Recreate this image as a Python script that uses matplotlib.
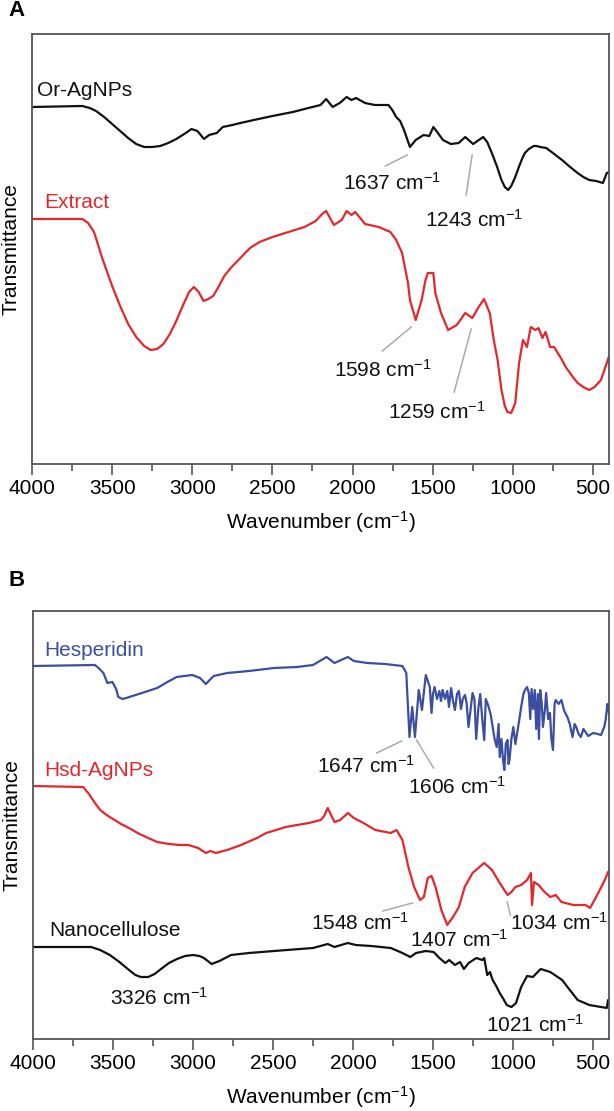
"""
FTIR spectra of Or-AgNPs / extract (A) and hesperidin / Hsd-AgNPs /
nanocellulose (B). Transmittance values are arbitrary offset units read
off the reference figure.
"""

import matplotlib
matplotlib.use("Agg")
import matplotlib.pyplot as plt
from matplotlib.ticker import MultipleLocator

plt.rcParams["font.family"] = ["Liberation Sans", "DejaVu Sans"]
plt.rcParams["mathtext.default"] = "regular"

# ----------------------------- DATA -----------------------------
# panel A
or_agnps_wn = [4000, 3686, 3640, 3600, 3550, 3500, 3450, 3400, 3350, 3300,
               3250, 3200, 3150, 3100, 3050, 3005, 2968, 2927, 2895, 2847,
               2810, 2750, 2700, 2616, 2500, 2372, 2300, 2250, 2200, 2165,
               2124, 2080, 2037, 2007, 1978, 1922, 1861, 1776, 1752, 1728,
               1703, 1679, 1642, 1606, 1557, 1521, 1496, 1472, 1436, 1387,
               1338, 1297, 1248, 1185, 1160, 1131, 1100, 1071, 1050, 1029,
               1010, 985, 960, 940, 925, 900, 870, 852, 830, 791,
               750, 693, 650, 596, 560, 523, 480, 438, 414, 397]
or_agnps_t = [357, 358, 356, 353, 347, 340, 333, 326, 320, 317,
              317, 318, 321, 325, 330, 335, 333, 325, 329, 331,
              337, 339, 341, 344, 348, 352, 355, 357, 359, 365,
              357, 361, 367, 364, 366, 361, 359, 359, 354, 347,
              343, 334, 317, 324, 329, 328, 337, 332, 324, 320,
              321, 327, 320, 327, 322, 311, 298, 284, 277, 274,
              278, 287, 298, 306, 311, 315, 318, 318, 317, 316,
              311, 304, 298, 291, 287, 284, 283, 281, 291, 292]

extract_wn = [4000, 3686, 3650, 3613, 3560, 3500, 3450, 3400, 3350, 3300,
              3260, 3220, 3180, 3140, 3100, 3060, 3020, 2990, 2960, 2930,
              2900, 2870, 2840, 2800, 2760, 2700, 2640, 2580, 2500, 2400,
              2300, 2230, 2190, 2165, 2116, 2068, 2037, 2007, 1983, 1922,
              1837, 1764, 1728, 1691, 1654, 1642, 1606, 1569, 1545, 1530,
              1496, 1484, 1448, 1404, 1350, 1297, 1253, 1217, 1180, 1144,
              1119, 1095, 1071, 1050, 1034, 1010, 985, 961, 937, 912,
              888, 859, 840, 815, 796, 767, 743, 700, 670, 630,
              596, 560, 523, 490, 450, 414, 397]
extract_t = [245, 245, 241, 232, 205, 178, 158, 140, 127, 118,
             114, 115, 120, 130, 143, 158, 172, 177, 172, 163,
             165, 168, 176, 188, 196, 206, 216, 222, 227, 232,
             237, 243, 250, 253, 239, 244, 253, 249, 252, 240,
             237, 232, 224, 211, 181, 164, 144, 164, 184, 191,
             191, 171, 151, 134, 139, 151, 146, 156, 165, 151,
             124, 104, 74, 58, 52, 51, 61, 101, 124, 117,
             137, 134, 136, 126, 132, 117, 117, 106, 97, 88,
             81, 77, 74, 77, 84, 101, 109]

# panel B
hesperidin_wn = [4000, 3613, 3590, 3560, 3535, 3504, 3480, 3467, 3440, 3418,
                 3358, 3300, 3224, 3160, 3102, 3005, 2956, 2920, 2871, 2786,
                 2650, 2494, 2350, 2250, 2165, 2116, 2032, 1995, 1910, 1800,
                 1691, 1667, 1647, 1630, 1613, 1589, 1569, 1545, 1520, 1509,
                 1500, 1490, 1475, 1460, 1450, 1440, 1425, 1411, 1400, 1387,
                 1375, 1363, 1350, 1338, 1325, 1314, 1300, 1290, 1278, 1265,
                 1253, 1241, 1230, 1217, 1205, 1192, 1180, 1170, 1156, 1140,
                 1127, 1115, 1102, 1090, 1083, 1072, 1063, 1054, 1045, 1034,
                 1028, 1022, 1010, 998, 985, 974, 960, 949, 935, 925,
                 912, 901, 892, 884, 874, 864, 855, 845, 838, 830,
                 820, 813, 800, 793, 780, 769, 760, 750, 740, 733,
                 715, 697, 680, 660, 645, 628, 615, 605, 590, 576,
                 560, 547, 530, 499, 470, 450, 430, 421, 410, 406,
                 400]
hesperidin_t = [373, 374, 371, 366, 356, 357, 350, 342, 340, 341,
                344, 347, 351, 357, 362, 364, 361, 355, 363, 366,
                368, 371, 372, 374, 382, 376, 382, 378, 376, 375,
                373, 366, 302, 332, 302, 349, 329, 364, 352, 326,
                345, 352, 340, 348, 338, 349, 340, 348, 332, 351,
                338, 329, 345, 348, 330, 340, 344, 336, 312, 330,
                346, 340, 300, 330, 345, 320, 299, 340, 334, 325,
                312, 300, 292, 315, 282, 300, 280, 269, 295, 299,
                275, 279, 300, 312, 295, 306, 320, 332, 345, 349,
                352, 346, 320, 350, 330, 349, 310, 345, 300, 349,
                335, 312, 330, 346, 320, 326, 300, 289, 335, 339,
                335, 339, 328, 322, 315, 302, 315, 312, 305, 302,
                310, 307, 303, 306, 305, 304, 312, 319, 335, 332,
                326]

hsd_agnps_wn = [4000, 3686, 3650, 3613, 3580, 3540, 3500, 3450, 3400, 3346,
                3280, 3224, 3150, 3080, 3029, 2968, 2920, 2890, 2859, 2786,
                2700, 2600, 2543, 2480, 2421, 2350, 2275, 2202, 2180, 2158,
                2116, 2080, 2032, 1995, 1934, 1861, 1764, 1728, 1691, 1654,
                1618, 1581, 1557, 1533, 1509, 1484, 1448, 1411, 1375, 1338,
                1302, 1253, 1180, 1131, 1083, 1034, 1010, 985, 949, 912,
                888, 881, 869, 840, 803, 767, 733, 697, 623, 547,
                518, 474, 426, 406, 397]
hsd_agnps_t = [253, 252, 245, 236, 229, 224, 220, 215, 211, 206,
               201, 197, 195, 194, 194, 191, 186, 188, 186, 189,
               194, 201, 206, 209, 212, 214, 216, 219, 223, 231,
               217, 219, 226, 221, 216, 209, 206, 209, 199, 172,
               152, 139, 142, 161, 163, 152, 129, 114, 122, 132,
               152, 166, 176, 169, 156, 144, 147, 152, 154, 159,
               166, 134, 157, 154, 147, 142, 144, 137, 134, 134,
               131, 144, 159, 167, 164]

nanocellulose_wn = [4000, 3637, 3580, 3520, 3460, 3400, 3360, 3326, 3280, 3240,
                    3200, 3150, 3100, 3050, 3000, 2960, 2932, 2883, 2835, 2762,
                    2650, 2494, 2250, 2158, 2116, 2032, 1983, 1886, 1764, 1691,
                    1642, 1606, 1545, 1496, 1460, 1423, 1399, 1363, 1331, 1307,
                    1277, 1229, 1192, 1180, 1161, 1144, 1127, 1105, 1083, 1060,
                    1039, 1010, 981, 949, 912, 876, 827, 767, 693, 645,
                    596, 523, 450, 414, 406, 397]
nanocellulose_t = [92, 92, 89, 84, 77, 69, 64, 62, 62, 65,
                   70, 76, 80, 83, 84, 83, 81, 75, 78, 84,
                   86, 88, 91, 95, 92, 96, 94, 93, 91, 86,
                   82, 86, 88, 87, 81, 76, 79, 74, 77, 70,
                   76, 81, 79, 81, 64, 67, 59, 53, 46, 40,
                   34, 32, 36, 52, 63, 62, 70, 67, 59, 49,
                   39, 34, 32, 31, 39, 34]
# ----------------------------------------------------------------

BLACK = "#111111"
RED = "#e5262c"
BLUE = "#3b4ea2"
LEADER = "#aaaaaa"
FS = 15

W, H = 614, 1111
fig = plt.figure(figsize=(W / 100, H / 100), dpi=100)
axA = fig.add_axes([32 / W, 1 - 464 / H, 577 / W, 430 / H])
axB = fig.add_axes([33 / W, 1 - 1039 / H, 576 / W, 428 / H])


def style(ax, ytop):
    ax.set_xlim(4000, 400)
    ax.set_ylim(0, ytop)
    ax.xaxis.set_major_locator(MultipleLocator(500))
    ax.xaxis.set_minor_locator(MultipleLocator(250))
    ax.set_yticks([])
    ax.tick_params(axis="x", which="major", length=8, width=1.2, pad=3,
                   labelsize=FS, color="#555555")
    ax.tick_params(axis="x", which="minor", length=5, width=1.2, color="#555555")
    for sp in ax.spines.values():
        sp.set_color("#555555")
        sp.set_linewidth(1.3)
    ax.set_xlabel("Wavenumber (cm$^{-1}$)", fontsize=FS, labelpad=8)
    ax.set_ylabel("Transmittance", fontsize=FS, labelpad=8)


def peak(ax, text, tx, ty, line=None):
    ax.text(tx, ty, text, fontsize=FS, ha="center", va="center", color=BLACK)
    if line is not None:
        (x1, y1), (x2, y2) = line
        ax.plot([x1, x2], [y1, y2], color=LEADER, lw=1.1)


CM = " cm$^{-1}$"

# ---- panel A ----
axA.plot(or_agnps_wn, or_agnps_t, color=BLACK, lw=1.6)
axA.plot(extract_wn, extract_t, color=RED, lw=1.6)
style(axA, 430)
axA.text(3969, 374, "Or-AgNPs", fontsize=FS, color=BLACK, va="center")
axA.text(3925, 262, "Extract", fontsize=FS, color=RED, va="center")
peak(axA, "1637" + CM, 1752, 281, ((1796, 298), (1659, 309)))
peak(axA, "1243" + CM, 1242, 244, ((1291, 269), (1254, 309)))
peak(axA, "1598" + CM, 1808, 94, ((1814, 113), (1634, 137)))
peak(axA, "1259" + CM, 1472, 52, ((1366, 72), (1260, 135)))

# ---- panel B ----
axB.plot(hesperidin_wn, hesperidin_t, color=BLUE, lw=1.6)
axB.plot(hsd_agnps_wn, hsd_agnps_t, color=RED, lw=1.6)
axB.plot(nanocellulose_wn, nanocellulose_t, color=BLACK, lw=1.6)
style(axB, 428)
axB.text(3932, 389, "Hesperidin", fontsize=FS, color=BLUE, va="center")
axB.text(3932, 269, "Hsd-AgNPs", fontsize=FS, color=RED, va="center")
axB.text(3900, 109, "Nanocellulose", fontsize=FS, color=BLACK, va="center")
peak(axB, "1647" + CM, 1920, 273, ((1852, 286), (1696, 298)))
peak(axB, "1606" + CM, 1347, 252, ((1497, 271), (1603, 299)))
peak(axB, "1548" + CM, 1958, 116, ((1814, 128), (1628, 136)))
peak(axB, "1407" + CM, 1335, 99)
peak(axB, "1034" + CM, 712, 116, ((1036, 137), (1017, 124)))
peak(axB, "3326" + CM, 3215, 41)
peak(axB, "1021" + CM, 862, 14)

fig.text(8 / W, 1 - 10 / H, "A", fontsize=FS + 1, fontweight="bold", va="center")
fig.text(8 / W, 1 - 580 / H, "B", fontsize=FS + 1, fontweight="bold", va="center")

fig.savefig("out.png", dpi=100)
